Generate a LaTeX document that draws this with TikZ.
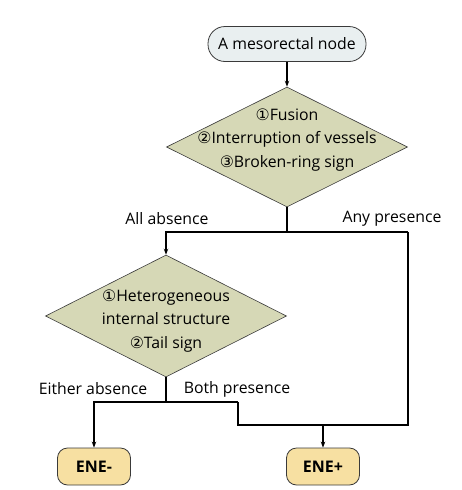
\documentclass[tikz,border=0pt]{standalone}
\usepackage{fontspec}
\setmainfont{Open Sans}
\newfontfamily\circfont{DejaVu Sans}
\usetikzlibrary{shapes.geometric,arrows.meta}
\newcommand{\cn}[1]{{\circfont #1}}
\definecolor{startfill}{HTML}{E9EFF0}
\definecolor{diafill}{HTML}{D6D8B6}
\definecolor{endfill}{HTML}{F7E0A2}
\definecolor{edge}{HTML}{3A3A3A}
\begin{document}
\begin{tikzpicture}[x=1pt,y=-1pt,
  txt/.style={font=\fontsize{15.8}{23.3}\selectfont, text=black},
  startbox/.style={draw=edge, line width=0.8pt, fill=startfill, rounded corners=17pt,
     minimum width=158pt, minimum height=35pt, inner sep=0pt, txt},
  diabox/.style={draw=edge, line width=0.6pt, fill=diafill, diamond, inner sep=0pt},
  endbox/.style={draw=edge, line width=0.8pt, fill=endfill, rounded corners=10pt,
     minimum width=73pt, minimum height=37pt, inner sep=0pt, txt, font=\fontsize{16}{18}\selectfont\bfseries},
  conn/.style={draw=black, line width=1.1pt},
  arr/.style={conn, -{Stealth[length=6pt,width=4.5pt]}},
  lbl/.style={txt, inner sep=0pt}
]
\useasboundingbox (0,0) rectangle (462,490);

\node[startbox] (start) at (287,44) {A mesorectal node};
\node[diabox, minimum width=241pt, minimum height=120pt] (d1) at (287,147) {};
\node[txt, align=center, inner sep=0pt] (d1t) at (287,140) {\cn{①}Fusion\\\cn{②}Interruption of vessels\\\cn{③}Broken-ring sign};
\node[diabox, minimum width=241pt, minimum height=122pt] (d2) at (166,316) {};
\node[txt, align=center, inner sep=0pt] (d2t) at (166,321) {\cn{①}Heterogeneous\\internal structure\\\cn{②}Tail sign};
\node[endbox] (eneneg) at (94,466.5) {ENE-};
\node[endbox] (enepos) at (323,466.5) {ENE+};

\coordinate (j1) at (287,232);
\coordinate (jl) at (166,232);
\coordinate (jr) at (408,232);
\coordinate (j2) at (166,402);
\coordinate (jl2) at (94,402);
\coordinate (jr2) at (238,402);
\coordinate (jr3) at (238,425);
\coordinate (jm) at (323,425);
\coordinate (jr4) at (408,425);

\draw[arr] (start) -- (d1);
\draw[conn] (d1.south) -- (j1);
\draw[arr] (jr) -- (j1) -- (jl) -- (d2.north);
\draw[conn] (d2.south) -- (j2);
\draw[arr] (jr2) -- (jl2) -- (eneneg.north);
\draw[conn] (jr2) -- (jr3) -- (jr4) -- (jr);
\draw[arr] (jm) -- (enepos.north);

\node[lbl] (la) at (167,219) {All absence};
\node[lbl] (lp) at (392,219) {Any presence};
\node[lbl] (le) at (93,389) {Either absence};
\node[lbl] (lb) at (237,389) {Both presence};
\end{tikzpicture}
\end{document}
